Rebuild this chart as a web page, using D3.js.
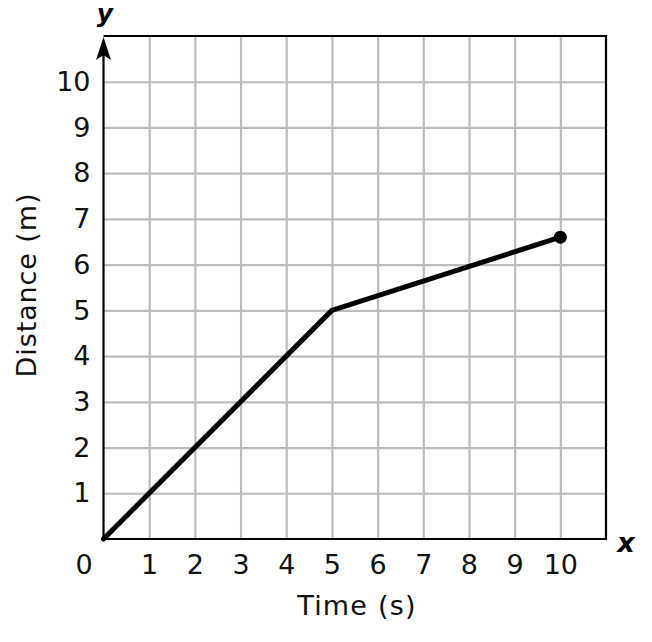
<!DOCTYPE html>
<html>
<head>
<meta charset="utf-8">
<script src="https://cdn.jsdelivr.net/npm/d3@7"></script>
<style>
  body { margin: 0; background: #fff; }
  svg { display: block; font-family: "DejaVu Sans", Verdana, sans-serif; }
</style>
</head>
<body>
<div id="chart"></div>
<script>
// data
var times = [0, 5, 10];
var distances = [0, 5, 6.6];
var xTicks = [0, 1, 2, 3, 4, 5, 6, 7, 8, 9, 10];
var yTicks = [1, 2, 3, 4, 5, 6, 7, 8, 9, 10];
var gridValues = [1, 2, 3, 4, 5, 6, 7, 8, 9, 10];
var xTitle = "Time (s)";
var yTitle = "Distance (m)";

var width = 652, height = 642;
var plotLeft = 103.5, plotRight = 606, plotTop = 36, plotBottom = 539;
var fontSize = "27px";

var svg = d3.select("#chart")
  .append("svg")
  .attr("width", width)
  .attr("height", height);

var x = d3.scaleLinear().domain([0, 11]).range([plotLeft, plotRight]);
var y = d3.scaleLinear().domain([0, 11]).range([plotBottom, plotTop]);

// grid lines
svg.append("g")
  .attr("transform", "translate(0," + plotBottom + ")")
  .call(d3.axisBottom(x).tickValues(gridValues).tickSize(-(plotBottom - plotTop)).tickFormat(""))
  .call(function(g) { g.select(".domain").remove(); })
  .selectAll("line")
  .style("stroke", "#bcbcbc")
  .style("stroke-width", 2.2);

svg.append("g")
  .attr("transform", "translate(" + plotLeft + ",0)")
  .call(d3.axisLeft(y).tickValues(gridValues).tickSize(-(plotRight - plotLeft)).tickFormat(""))
  .call(function(g) { g.select(".domain").remove(); })
  .selectAll("line")
  .style("stroke", "#bcbcbc")
  .style("stroke-width", 2.2);

// frame: top and right border, bottom axis
svg.append("path")
  .attr("d", "M" + plotLeft + "," + plotTop + "H" + plotRight + "V" + plotBottom + "H" + plotLeft)
  .attr("fill", "none")
  .attr("stroke", "#000")
  .attr("stroke-width", 2.2);

// y axis with arrow
svg.append("line")
  .attr("x1", plotLeft).attr("x2", plotLeft)
  .attr("y1", plotBottom).attr("y2", plotTop + 10)
  .attr("stroke", "#000")
  .attr("stroke-width", 2.2);

svg.append("path")
  .attr("d", "M" + plotLeft + "," + (plotTop + 1) +
             "L" + (plotLeft + 7.5) + "," + (plotTop + 24) +
             "L" + plotLeft + "," + (plotTop + 19) +
             "L" + (plotLeft - 7.5) + "," + (plotTop + 24) + "Z")
  .attr("fill", "#000");

// tick labels
var xAxis = svg.append("g")
  .attr("transform", "translate(0," + plotBottom + ")")
  .call(d3.axisBottom(x).tickValues(xTicks).tickSize(0).tickPadding(16));
xAxis.select(".domain").remove();
xAxis.selectAll("text")
  .style("font-size", fontSize)
  .style("font-family", "DejaVu Sans, Verdana, sans-serif")
  .attr("fill", "#111")
  .attr("dx", function(d) { return d === 0 ? -20 : 0; });

var yAxis = svg.append("g")
  .attr("transform", "translate(" + plotLeft + ",0)")
  .call(d3.axisLeft(y).tickValues(yTicks).tickSize(0).tickPadding(13));
yAxis.select(".domain").remove();
yAxis.selectAll("text")
  .style("font-size", fontSize)
  .style("font-family", "DejaVu Sans, Verdana, sans-serif")
  .attr("fill", "#111");

// axis titles
svg.append("text")
  .attr("x", 357)
  .attr("y", 615)
  .attr("text-anchor", "middle")
  .style("font-size", fontSize)
  .style("letter-spacing", "1.2px")
  .attr("fill", "#111")
  .text(xTitle);

svg.append("text")
  .attr("transform", "translate(36,285) rotate(-90)")
  .attr("text-anchor", "middle")
  .style("font-size", fontSize)
  .style("letter-spacing", "0.9px")
  .attr("fill", "#111")
  .text(yTitle);

// axis letters
svg.append("text")
  .attr("x", 626).attr("y", 552)
  .attr("text-anchor", "middle")
  .style("font-size", "27px")
  .style("font-weight", "bold")
  .style("font-style", "italic")
  .text("x");

svg.append("text")
  .attr("x", 105).attr("y", 22)
  .attr("text-anchor", "middle")
  .style("font-size", "25px")
  .style("font-weight", "bold")
  .style("font-style", "italic")
  .text("y");

// the data line
var line = d3.line()
  .x(function(d, i) { return x(times[i]); })
  .y(function(d) { return y(d); });

svg.append("path")
  .datum(distances)
  .attr("d", line)
  .attr("fill", "none")
  .attr("stroke", "#000")
  .attr("stroke-width", 5)
  .attr("stroke-linejoin", "round")
  .attr("stroke-linecap", "round");

svg.append("circle")
  .attr("cx", x(times[times.length - 1]))
  .attr("cy", y(distances[distances.length - 1]))
  .attr("r", 6.5)
  .attr("fill", "#000");
</script>
</body>
</html>
